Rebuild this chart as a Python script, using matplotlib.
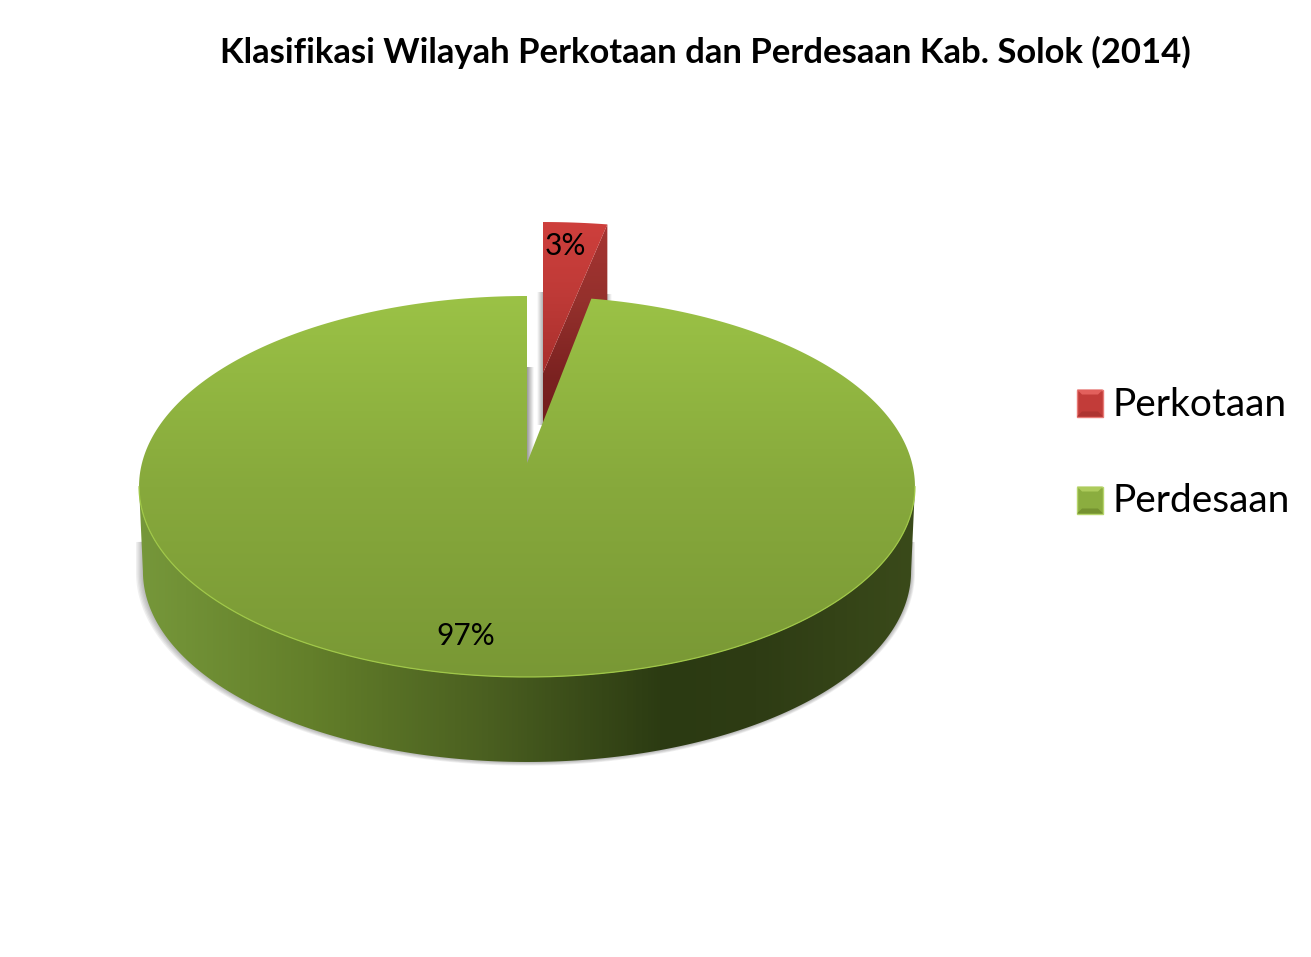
import numpy as np
import matplotlib
matplotlib.use('Agg')
import matplotlib.pyplot as plt
from matplotlib.colors import LinearSegmentedColormap
from matplotlib.patches import Polygon, Rectangle

# Chart values
categories = ['Perkotaan', 'Perdesaan']
shares = [3, 97]
share_labels = ['3%', '97%']
title = 'Klasifikasi Wilayah Perkotaan dan Perdesaan Kab. Solok (2014)'

# Layout, in pixels of the 1311x957 picture
W, H = 1311, 957
GREEN_APEX = (527, 463)
RED_APEX = (543, 373)
RED_SCALE = 0.904
RX = 385.0
RY = 187.6
PERSP = 0.1233
DEPTH = 85

plt.rcParams['font.family'] = ['Lato', 'DejaVu Sans']

fig = plt.figure(figsize=(W / 100, H / 100), dpi=100)
ax = fig.add_axes([0, 0, 1, 1])


def project(theta, apex, scale=1.0):
    """ Disc angle (degrees, clockwise from the back) to picture pixels. """
    t = np.radians(theta)
    w = 1 + PERSP * np.cos(t)
    x = apex[0] + RX * np.sin(t) / w
    y = apex[1] - scale * RY * np.cos(t) / w
    return np.column_stack([x, y])


def lower(points, apex, shrink=0.99):
    """ Same outline pushed down to the bottom of the disc. """
    out = points.copy()
    out[:, 0] = apex[0] + (out[:, 0] - apex[0]) * shrink
    out[:, 1] += DEPTH
    return out


def gradient_fill(points, stops, vertical=True, zorder=1):
    """ Fill a polygon with a linear gradient between colour stops. """
    x0, x1 = points[:, 0].min(), points[:, 0].max()
    y0, y1 = points[:, 1].min(), points[:, 1].max()
    cmap = LinearSegmentedColormap.from_list('fill', stops)
    ramp = np.linspace(0, 1, 256)
    ramp = ramp[:, None] if vertical else ramp[None, :]
    im = ax.imshow(ramp, cmap=cmap, extent=(x0, x1, y1, y0), aspect='auto',
                   interpolation='bilinear', zorder=zorder, vmin=0, vmax=1)
    clip = Polygon(points, closed=True, transform=ax.transData, fc='none', ec='none')
    ax.add_patch(clip)
    im.set_clip_path(clip)


def shadow_band(x0, x1, y0, y1, dark_left, alpha=0.55, zorder=1):
    """ Soft grey strip next to a cut edge. """
    a = np.linspace(alpha, 0, 64) if dark_left else np.linspace(0, alpha, 64)
    img = np.zeros((1, 64, 4))
    img[..., :3] = 0.35
    img[0, :, 3] = a
    ax.imshow(img, extent=(x0, x1, y1, y0), aspect='auto', zorder=zorder,
              interpolation='bilinear')


# Slice angles come from the shares
red_sweep = shares[0] / sum(shares) * 360
green_sweep = shares[1] / sum(shares) * 360

# The wall of the disc runs between the widest points of the outline
widest = np.degrees(np.arccos(-PERSP))
side_theta = np.linspace(widest, 360 - widest, 240)
top_front = project(side_theta, GREEN_APEX)
bottom_front = lower(top_front, GREEN_APEX)
wall = np.vstack([top_front, bottom_front[::-1]])

# Soft shadow under the disc, starting part way down the wall
shadow_base = np.vstack([bottom_front[0] - [0, 30], bottom_front, bottom_front[-1] - [0, 30]])
center = np.array([GREEN_APEX[0], bottom_front[:, 1].min()])
for i in range(1, 6):
    grown = center + (shadow_base - center) * (1 + 0.0028 * i) + np.array([-0.3 * i, 0.2 * i])
    ax.add_patch(Polygon(grown, closed=True, fc='#555555', ec='none', alpha=0.09, zorder=1))

# Shadows in the gap between the slices
shadow_band(537, 543.5, 292, 425, dark_left=False, zorder=2)
shadow_band(527, 534, 367, 464, dark_left=True, alpha=0.62, zorder=2)
shadow_band(606, 612, 294, 301, dark_left=True, alpha=0.45, zorder=2)

# Red slice
red_arc = project(np.linspace(0, red_sweep, 30), RED_APEX, RED_SCALE)
red_top = np.vstack([RED_APEX, red_arc])
red_cut = np.array([RED_APEX, red_arc[-1], red_arc[-1] + [0, DEPTH], np.array(RED_APEX) + [0, DEPTH]])
gradient_fill(red_cut, ['#A63432', '#94302C', '#7A2120', '#6E1C1C'], zorder=3)
gradient_fill(red_top, ['#CE3F3C', '#BE3A37', '#A82F2C'], zorder=4)

# Green slice, side wall first
wall_stops = [(0.0, '#76973A'), (0.22, '#637F2A'), (0.45, '#4A5F20'), (0.68, '#2B3A12'),
              (0.80, '#2E3C14'), (1.0, '#3A4A1A')]
gradient_fill(wall, wall_stops, vertical=False, zorder=5)

green_theta = np.linspace(red_sweep, red_sweep + green_sweep, 400)
green_arc = project(green_theta, GREEN_APEX)
green_top = np.vstack([GREEN_APEX, green_arc])
gradient_fill(green_top, ['#9BC246', '#87A93C', '#799835'], zorder=6)

# Light rim along the front of the disc
ax.plot(top_front[:, 0], top_front[:, 1], color='#A0C848', lw=0.9, zorder=7, solid_capstyle='round')

# Percent labels
ax.text(565, 246, share_labels[0], fontsize=21.5, ha='center', va='center', color='black', zorder=8)
ax.text(466, 636, share_labels[1], fontsize=21.5, ha='center', va='center', color='black', zorder=8)

# Title
ax.text(705, 52, title, fontsize=24.9, fontweight='bold', ha='center', va='center', color='black')

# Legend with bevelled swatches
legend_rows = [
    (403, '#C23C39', '#E2605C', '#AE3431', '#E87A76'),
    (500, '#8BAD3F', '#ADCB5C', '#759230', '#B7D56C'),
]
for (y, mid, light, dark, edge), name in zip(legend_rows, categories):
    x0, x1, y0, y1 = 1077, 1103, y - 13.5, y + 13.5
    b = 5
    ax.add_patch(Rectangle((x0, y0), x1 - x0, y1 - y0, fc=mid, ec=edge, lw=1, zorder=8))
    ax.add_patch(Polygon([(x0, y0), (x1, y0), (x1 - b, y0 + b), (x0 + b, y0 + b)], fc=light, ec='none', zorder=9))
    ax.add_patch(Polygon([(x0, y1), (x1, y1), (x1 - b, y1 - b), (x0 + b, y1 - b)], fc=dark, ec='none', zorder=9))
    ax.text(1113, y + 1.5, name, fontsize=28, ha='left', va='center', color='black', zorder=9)

ax.set_xlim(0, W)
ax.set_ylim(H, 0)
ax.axis('off')
fig.savefig('out.png', dpi=100, facecolor='white')
